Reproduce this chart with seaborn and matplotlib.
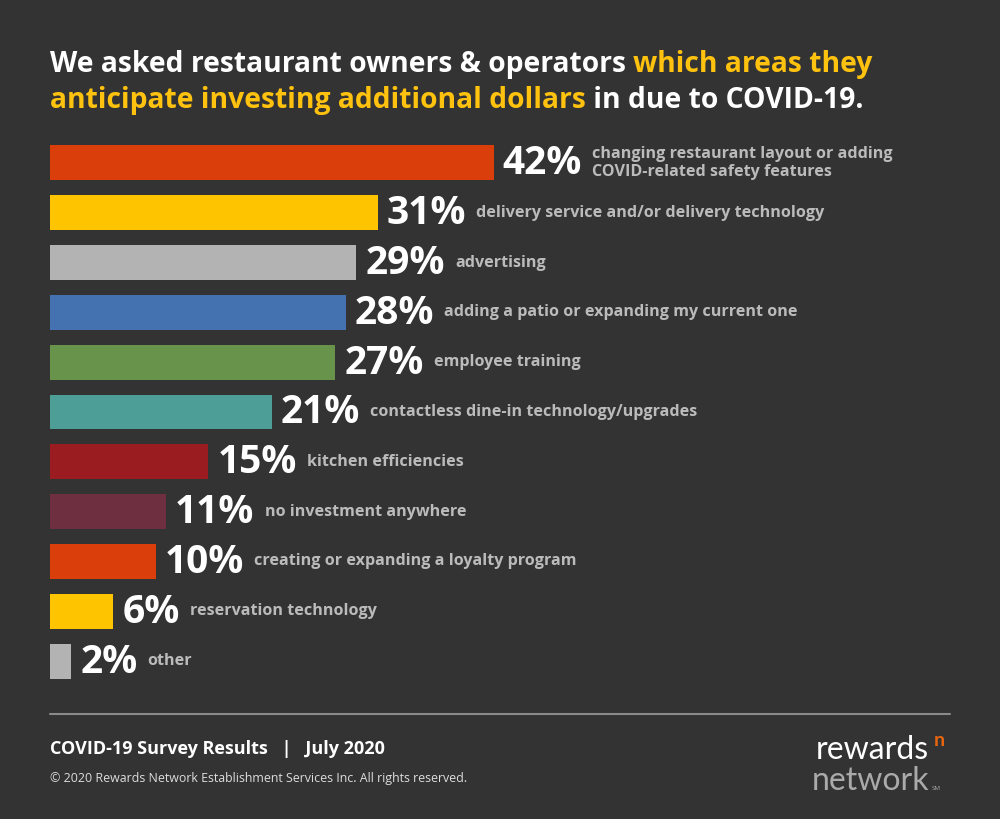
import matplotlib

matplotlib.use("Agg")

import matplotlib.pyplot as plt
import seaborn as sns

# survey answers, top to bottom
areas = [
    "changing restaurant layout or adding\nCOVID-related safety features",
    "delivery service and/or delivery technology",
    "advertising",
    "adding a patio or expanding my current one",
    "employee training",
    "contactless dine-in technology/upgrades",
    "kitchen efficiencies",
    "no investment anywhere",
    "creating or expanding a loyalty program",
    "reservation technology",
    "other",
]
shares = [42, 31, 29, 28, 27, 21, 15, 11, 10, 6, 2]
bar_colors = [
    "#D93E0B", "#FFC400", "#B3B3B3", "#4472B0", "#67944A", "#4E9E98",
    "#9A1C20", "#6E3040", "#D93E0B", "#FFC400", "#B3B3B3",
]

BG = "#333333"
YELLOW = "#FFC20E"
FONT = "Open Sans"

sns.set_theme(style="white")
plt.rcParams["font.family"] = [FONT, "DejaVu Sans"]

fig = plt.figure(figsize=(10, 8.2), dpi=100, facecolor=BG)
ax = fig.add_axes([0.05, 1 - 687 / 820, 0.898, 548 / 820])
ax.set_facecolor(BG)

sns.barplot(
    x=shares, y=list(range(len(shares))), hue=list(range(len(shares))),
    palette=bar_colors, orient="h", width=0.7, saturation=1,
    legend=False, linewidth=0, ax=ax,
)
ax.set_xlim(0, 85)
ax.set_ylim(len(shares) - 0.5, -0.5)
ax.axis("off")

fig.canvas.draw()
renderer = fig.canvas.get_renderer()
W, H = fig.bbox.width, fig.bbox.height

for i, (val, area) in enumerate(zip(shares, areas)):
    # percent label just past the bar end
    x_px, y_px = ax.transData.transform((val, i))
    pct = fig.text((x_px + 9) / W, y_px / H, f"{val}%", color="white",
                   fontsize=28, fontweight="bold", va="center", ha="left")
    ext = pct.get_window_extent(renderer)
    fig.text((ext.x1 + 10) / W, (y_px + 1) / H, area, color="#BBBBBB",
             fontsize=11.6, fontweight="bold", va="center", ha="left",
             linespacing=1.1)


def colored_line(pieces, x_px, y_px, size):
    """Write consecutive text pieces with their own colours on one baseline."""
    for txt, col in pieces:
        t = fig.text(x_px / W, 1 - y_px / H, txt, color=col, fontsize=size,
                     fontweight="bold", va="baseline", ha="left")
        x_px = t.get_window_extent(renderer).x1


colored_line([("We asked restaurant owners & operators ", "white"),
              ("which areas they", YELLOW)], 50, 72, 20.3)
colored_line([("anticipate investing additional dollars", YELLOW),
              (" in due to COVID-19.", "white")], 50, 108, 20.3)

# separator and footer
fig.add_artist(plt.Line2D([50 / W, 950 / W], [1 - 715 / H] * 2,
                          color="#8A8A8A", linewidth=1.5))
fig.text(50 / W, 1 - 754 / H, "COVID-19 Survey Results   |   July 2020",
         color="white", fontsize=13, fontweight="bold", va="baseline")
fig.text(50 / W, 1 - 782 / H,
         "\u00a9 2020 Rewards Network Establishment Services Inc. All rights reserved.",
         color="#DDDDDD", fontsize=8.9, va="baseline")

# logo
fig.text(929 / W, 1 - 759 / H, "rewards", color="white", fontsize=23,
         ha="right", va="baseline", family="Lato", fontweight="normal")
fig.text(929 / W, 1 - 790 / H, "network", color="#AAAAAA", fontsize=23,
         ha="right", va="baseline", family="Lato", fontweight="normal")
fig.text(932 / W, 1 - 790 / H, "SM", color="#AAAAAA", fontsize=4.5,
         ha="left", va="baseline")
fig.text(934 / W, 1 - 746 / H, "n", color="#E8650F", fontsize=14,
         ha="left", va="baseline", family="Lato", fontweight="bold")

fig.savefig("out.png", dpi=100, facecolor=BG)
